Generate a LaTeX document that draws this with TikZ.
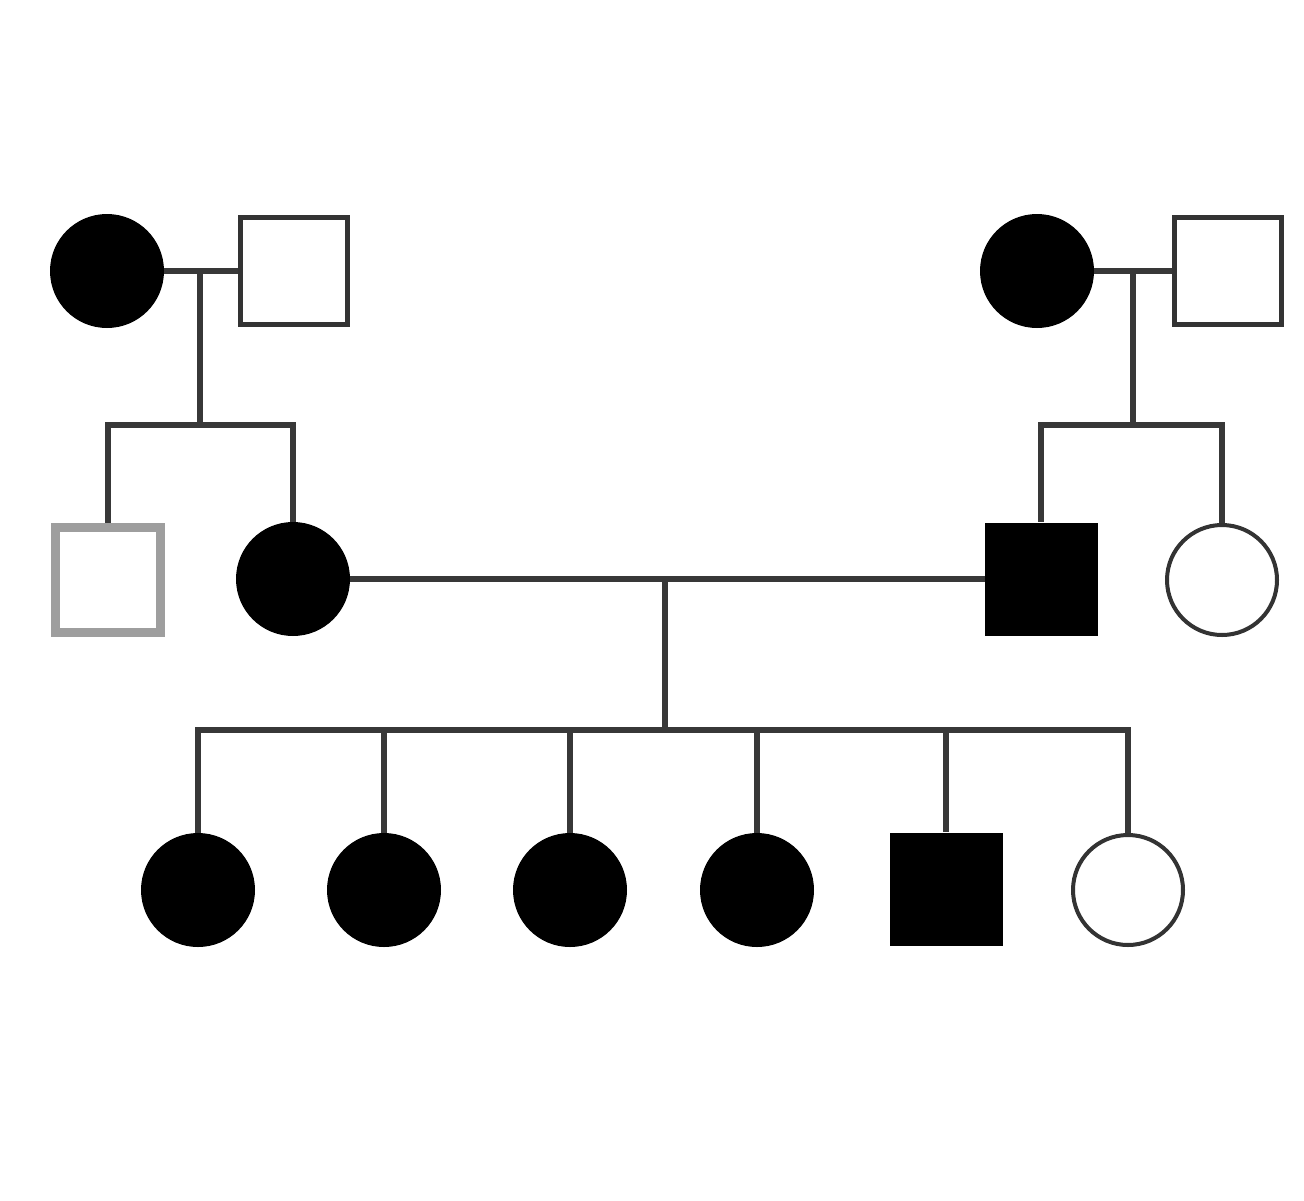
\documentclass[tikz,border=0pt]{standalone}
\begin{document}
\begin{tikzpicture}[x=1pt,y=-1pt,
  fcirc/.style={circle,fill=black,inner sep=0pt,minimum size=114pt},
  ocirc/.style={circle,draw=black!80,line width=4pt,fill=white,inner sep=0pt,minimum size=110pt},
  fsq/.style={rectangle,fill=black,inner sep=0pt,minimum size=113pt},
  osq/.style={rectangle,draw=black!80,line width=5pt,fill=white,inner sep=0pt,minimum size=107pt},
  gsq/.style={rectangle,draw=black!38,line width=9pt,fill=white,inner sep=0pt,minimum size=105pt},
  link/.style={draw=black!78,line width=5.5pt}]
\useasboundingbox (0,0) rectangle (1304,1200);
\fill[white] (0,0) rectangle (1304,1200);
% coordinates
\coordinate (m1) at (200,271);
\coordinate (sib1) at (200,425);
\coordinate (m2) at (1133,271);
\coordinate (sib2) at (1133,425);
\coordinate (m3) at (665,579);
\coordinate (sib3) at (665,730);
% lines (drawn first)
\begin{scope}[link]
\draw (107,271) -- (294,271);
\draw (1037,271) -- (1228,271);
\draw (293,579) -- (1041,579);
\end{scope}
% Generation I
\node[fcirc] (a1) at (107,271) {};
\node[osq] (a2) at (294,271) {};
\node[fcirc] (b1) at (1037,271) {};
\node[osq] (b2) at (1228,271) {};
% Generation II
\node[gsq] (c1) at (108,580) {};
\node[fcirc] (c2) at (293,579) {};
\node[fsq] (c3) at (1041,579) {};
\node[ocirc] (c4) at (1222,580) {};
% Generation III
\node[fcirc] (d1) at (198,890) {};
\node[fcirc] (d2) at (384,890) {};
\node[fcirc] (d3) at (570,890) {};
\node[fcirc] (d4) at (757,890) {};
\node[fsq] (d5) at (946,889) {};
\node[ocirc] (d6) at (1128,890) {};
% marriage lines
\draw[link] (a1.east) -- (a2.west);
\draw[link] (b1.east) -- (b2.west);
\draw[link] (c2.east) -- (c3.west);
% descent
\draw[link] (m1) -- (sib1);
\draw[link] (m2) -- (sib2);
\draw[link] (m3) -- (sib3);
% sibship lines
\draw[link,line cap=rect] (c1.north |- sib1) -- (c2.north |- sib1);
\draw[link,line cap=rect] (c3.north |- sib2) -- (c4.north |- sib2);
\draw[link,line cap=rect] (d1.north |- sib3) -- (d6.north |- sib3);
% drops
\draw[link] (c1.north |- sib1) -- (c1.north);
\draw[link] (c2.north |- sib1) -- (c2.north);
\draw[link] (c3.north |- sib2) -- (c3.north);
\draw[link] (c4.north |- sib2) -- (c4.north);
\foreach \n in {d1,d2,d3,d4,d5,d6}
  \draw[link] (\n.north |- sib3) -- (\n.north);
\end{tikzpicture}
\end{document}
